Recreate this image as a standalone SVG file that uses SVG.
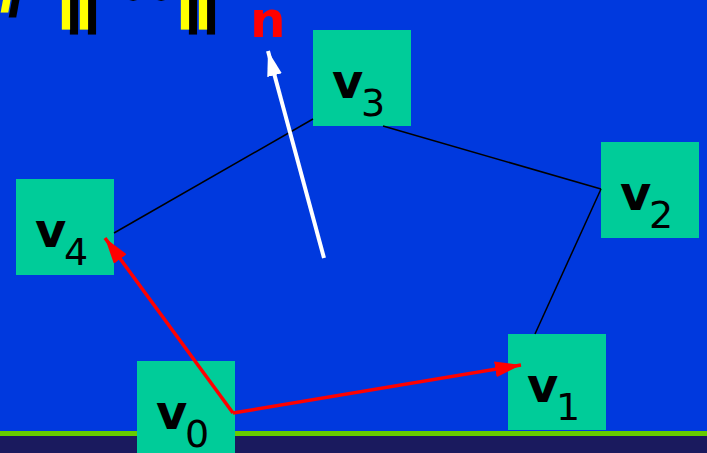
<svg xmlns="http://www.w3.org/2000/svg" width="707" height="453" viewBox="0 0 707 453">
<style>
.node rect{fill:#00CC99}
.v{font-family:"DejaVu Sans",sans-serif;font-weight:bold;font-size:48px;fill:#000}
.s{font-family:"DejaVu Sans",sans-serif;font-size:38px;fill:#000}
.edge{stroke:#000;stroke-width:1.5;fill:none}
.red{stroke:#FF0000;stroke-width:3.5;fill:none}
.white{stroke:#FFFFFF;stroke-width:4;fill:none}
.top{font-family:"Liberation Sans",Arial,sans-serif;font-weight:bold;font-size:64px}
</style>
<defs>
<marker id="ahRed" viewBox="0 0 26 16" refX="26" refY="8" markerWidth="26" markerHeight="16" markerUnits="userSpaceOnUse" orient="auto">
<path d="M0,0 L26,8 L0,16 z" fill="#FF0000"/>
</marker>
<marker id="ahWhite" viewBox="0 0 25 15" refX="25" refY="7.5" markerWidth="25" markerHeight="15" markerUnits="userSpaceOnUse" orient="auto">
<path d="M0,0 L25,7.5 L0,15 z" fill="#FFFFFF"/>
</marker>
</defs>
<rect x="0" y="0" width="707" height="453" fill="#0039DE"/>
<rect x="0" y="431" width="707" height="5" fill="#66CC00"/>
<rect x="0" y="436" width="707" height="17" fill="#1A1A5E"/>
<g id="title">
<text class="top" x="8" y="16" fill="#000">/</text>
<text class="top" x="0" y="11" fill="#FFFF00">/</text>
<text class="top" x="65" y="19.5" fill="#000">||</text>
<text class="top" x="57" y="14.5" fill="#FFFF00">||</text>
<text class="top" x="184" y="19.5" fill="#000">||</text>
<text class="top" x="176" y="14.5" fill="#FFFF00">||</text>
<text class="top" x="122" y="13" fill="#000">•</text>
<text class="top" x="150" y="13" fill="#000">•</text>
<text class="top" x="114" y="8" fill="#FFFF00">•</text>
<text class="top" x="142" y="8" fill="#FFFF00">•</text>
</g>
<g id="v3" class="node"><rect x="313" y="30" width="98" height="96"/><text class="v" x="332" y="98">v</text><text class="s" x="361" y="116">3</text></g>
<g id="v4" class="node"><rect x="16" y="179" width="98" height="96"/><text class="v" x="35" y="247">v</text><text class="s" x="64" y="265">4</text></g>
<g id="v2" class="node"><rect x="601" y="142" width="98" height="96"/><text class="v" x="620" y="210">v</text><text class="s" x="649" y="228">2</text></g>
<g id="v1" class="node"><rect x="508" y="334" width="98" height="96"/><text class="v" x="527" y="402">v</text><text class="s" x="556" y="420">1</text></g>
<g id="v0" class="node"><rect x="137" y="361" width="98" height="92"/><text class="v" x="156" y="429">v</text><text class="s" x="185" y="447">0</text></g>
<g id="connectors">
<line class="edge" x1="114" y1="233" x2="313" y2="119"/>
<line class="edge" x1="383" y1="126" x2="601" y2="189"/>
<line class="edge" x1="601" y1="189" x2="535" y2="334"/>
<line class="red" x1="233" y1="413" x2="521" y2="365" marker-end="url(#ahRed)"/>
<line class="red" x1="233" y1="413" x2="105" y2="238" marker-end="url(#ahRed)"/>
<line class="white" x1="324" y1="258" x2="268" y2="51" marker-end="url(#ahWhite)"/>
</g>
<g id="n-label"><text x="250" y="37" font-family="DejaVu Sans,sans-serif" font-weight="bold" font-size="50" fill="#FF0000">n</text></g>
</svg>
